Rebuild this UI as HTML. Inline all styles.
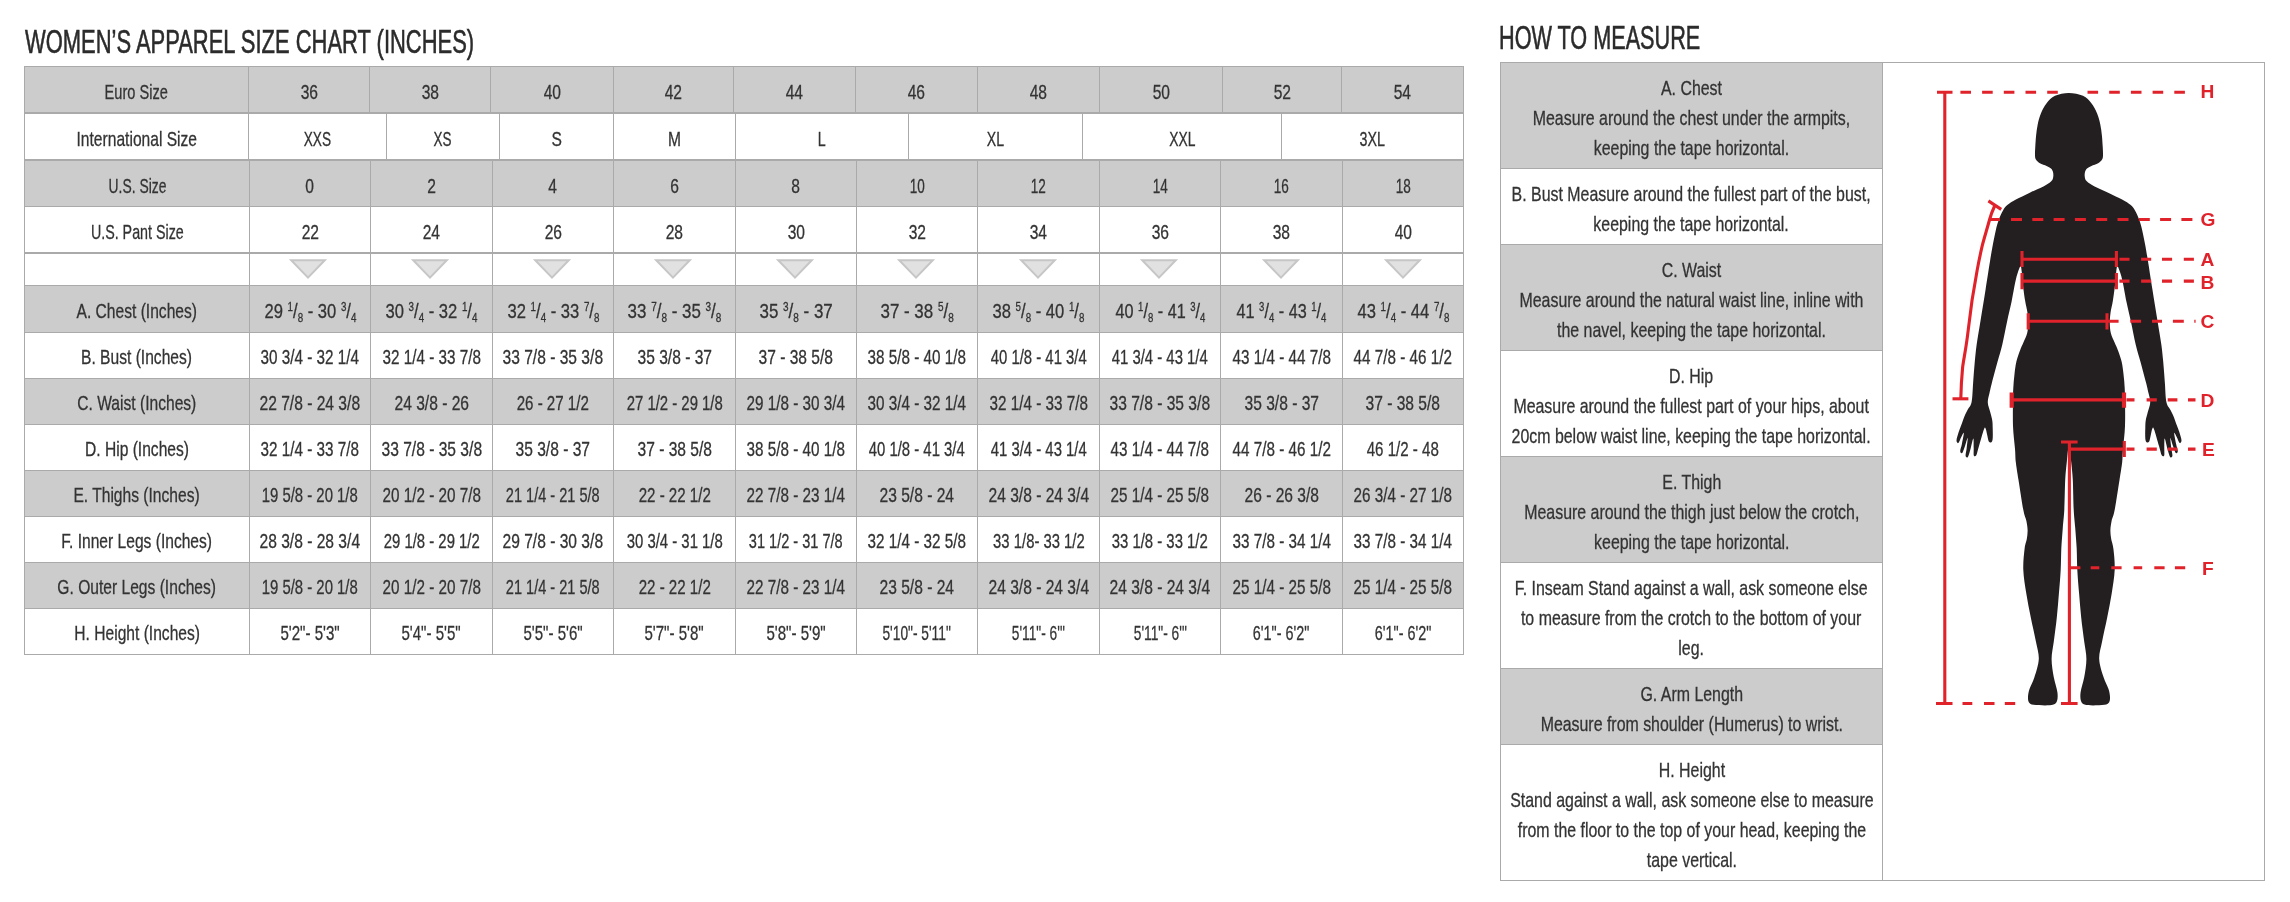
<!DOCTYPE html>
<html lang="en"><head><meta charset="utf-8"><title>Women's Apparel Size Chart</title><style>
html,body{margin:0;padding:0;background:#fff}
body{width:2290px;height:902px;position:relative;overflow:hidden;font-family:"Liberation Sans",sans-serif;color:#333333}
.r{position:absolute}
.c{position:absolute;display:flex;justify-content:center;align-items:center}
.t{display:inline-block;white-space:nowrap;font-size:20.4px;line-height:30px;-webkit-text-stroke:0.3px currentColor;text-align:center;flex:none;transform-origin:center}
.t sup,.t sub{font-size:12px;line-height:0}
.t sup{vertical-align:7px}
.t sub{vertical-align:-4px}
.ttl{position:absolute;white-space:nowrap;font-size:33px;line-height:1.15;color:#2b2b2b;-webkit-text-stroke:0.6px currentColor;margin-top:0.6px;transform-origin:left center}
</style></head>
<body>
<div class="r" style="left:24px;top:66px;width:1440px;height:47px;background:#cccccc"></div>
<div class="r" style="left:24px;top:160px;width:1440px;height:46px;background:#cccccc"></div>
<div class="r" style="left:24px;top:285px;width:1440px;height:47px;background:#cccccc"></div>
<div class="r" style="left:24px;top:378px;width:1440px;height:46px;background:#cccccc"></div>
<div class="r" style="left:24px;top:470px;width:1440px;height:46px;background:#cccccc"></div>
<div class="r" style="left:24px;top:562px;width:1440px;height:46px;background:#cccccc"></div>
<div class="r" style="left:24px;top:66px;width:1440px;height:1px;background:#aaaaaa"></div>
<div class="r" style="left:24px;top:112px;width:1440px;height:2px;background:#aaaaaa"></div>
<div class="r" style="left:24px;top:159px;width:1440px;height:2px;background:#aaaaaa"></div>
<div class="r" style="left:24px;top:206px;width:1440px;height:1px;background:#aaaaaa"></div>
<div class="r" style="left:24px;top:252px;width:1440px;height:2px;background:#aaaaaa"></div>
<div class="r" style="left:24px;top:285px;width:1440px;height:1px;background:#aaaaaa"></div>
<div class="r" style="left:24px;top:332px;width:1440px;height:1px;background:#aaaaaa"></div>
<div class="r" style="left:24px;top:378px;width:1440px;height:1px;background:#aaaaaa"></div>
<div class="r" style="left:24px;top:424px;width:1440px;height:1px;background:#aaaaaa"></div>
<div class="r" style="left:24px;top:470px;width:1440px;height:1px;background:#aaaaaa"></div>
<div class="r" style="left:24px;top:516px;width:1440px;height:1px;background:#aaaaaa"></div>
<div class="r" style="left:24px;top:562px;width:1440px;height:1px;background:#aaaaaa"></div>
<div class="r" style="left:24px;top:608px;width:1440px;height:1px;background:#aaaaaa"></div>
<div class="r" style="left:24px;top:654px;width:1440px;height:1px;background:#aaaaaa"></div>
<div class="r" style="left:24px;top:66px;width:1px;height:47px;background:#aaaaaa"></div>
<div class="r" style="left:248px;top:66px;width:1px;height:47px;background:#aaaaaa"></div>
<div class="r" style="left:369px;top:66px;width:1px;height:47px;background:#aaaaaa"></div>
<div class="r" style="left:490px;top:66px;width:1px;height:47px;background:#aaaaaa"></div>
<div class="r" style="left:613px;top:66px;width:1px;height:47px;background:#aaaaaa"></div>
<div class="r" style="left:733px;top:66px;width:1px;height:47px;background:#aaaaaa"></div>
<div class="r" style="left:855px;top:66px;width:1px;height:47px;background:#aaaaaa"></div>
<div class="r" style="left:977px;top:66px;width:1px;height:47px;background:#aaaaaa"></div>
<div class="r" style="left:1099px;top:66px;width:1px;height:47px;background:#aaaaaa"></div>
<div class="r" style="left:1222px;top:66px;width:1px;height:47px;background:#aaaaaa"></div>
<div class="r" style="left:1341px;top:66px;width:1px;height:47px;background:#aaaaaa"></div>
<div class="r" style="left:1463px;top:66px;width:1px;height:47px;background:#aaaaaa"></div>
<div class="r" style="left:24px;top:113px;width:1px;height:47px;background:#aaaaaa"></div>
<div class="r" style="left:248px;top:113px;width:1px;height:47px;background:#aaaaaa"></div>
<div class="r" style="left:386px;top:113px;width:1px;height:47px;background:#aaaaaa"></div>
<div class="r" style="left:499px;top:113px;width:1px;height:47px;background:#aaaaaa"></div>
<div class="r" style="left:613px;top:113px;width:1px;height:47px;background:#aaaaaa"></div>
<div class="r" style="left:735px;top:113px;width:1px;height:47px;background:#aaaaaa"></div>
<div class="r" style="left:908px;top:113px;width:1px;height:47px;background:#aaaaaa"></div>
<div class="r" style="left:1082px;top:113px;width:1px;height:47px;background:#aaaaaa"></div>
<div class="r" style="left:1281px;top:113px;width:1px;height:47px;background:#aaaaaa"></div>
<div class="r" style="left:1463px;top:113px;width:1px;height:47px;background:#aaaaaa"></div>
<div class="r" style="left:24px;top:160px;width:1px;height:495px;background:#aaaaaa"></div>
<div class="r" style="left:249px;top:160px;width:1px;height:495px;background:#aaaaaa"></div>
<div class="r" style="left:370px;top:160px;width:1px;height:495px;background:#aaaaaa"></div>
<div class="r" style="left:492px;top:160px;width:1px;height:495px;background:#aaaaaa"></div>
<div class="r" style="left:613px;top:160px;width:1px;height:495px;background:#aaaaaa"></div>
<div class="r" style="left:735px;top:160px;width:1px;height:495px;background:#aaaaaa"></div>
<div class="r" style="left:856px;top:160px;width:1px;height:495px;background:#aaaaaa"></div>
<div class="r" style="left:977px;top:160px;width:1px;height:495px;background:#aaaaaa"></div>
<div class="r" style="left:1099px;top:160px;width:1px;height:495px;background:#aaaaaa"></div>
<div class="r" style="left:1220px;top:160px;width:1px;height:495px;background:#aaaaaa"></div>
<div class="r" style="left:1342px;top:160px;width:1px;height:495px;background:#aaaaaa"></div>
<div class="r" style="left:1463px;top:160px;width:1px;height:495px;background:#aaaaaa"></div>
<div class="c" style="left:24px;top:68.5px;width:225px;height:47px"><span class="t" style="transform:scaleX(0.715)">Euro Size</span></div>
<div class="c" style="left:248px;top:68.5px;width:122px;height:47px"><span class="t" style="transform:scaleX(0.765)">36</span></div>
<div class="c" style="left:369px;top:68.5px;width:122px;height:47px"><span class="t" style="transform:scaleX(0.765)">38</span></div>
<div class="c" style="left:490px;top:68.5px;width:124px;height:47px"><span class="t" style="transform:scaleX(0.765)">40</span></div>
<div class="c" style="left:613px;top:68.5px;width:121px;height:47px"><span class="t" style="transform:scaleX(0.765)">42</span></div>
<div class="c" style="left:733px;top:68.5px;width:123px;height:47px"><span class="t" style="transform:scaleX(0.765)">44</span></div>
<div class="c" style="left:855px;top:68.5px;width:123px;height:47px"><span class="t" style="transform:scaleX(0.765)">46</span></div>
<div class="c" style="left:977px;top:68.5px;width:123px;height:47px"><span class="t" style="transform:scaleX(0.765)">48</span></div>
<div class="c" style="left:1099px;top:68.5px;width:124px;height:47px"><span class="t" style="transform:scaleX(0.765)">50</span></div>
<div class="c" style="left:1222px;top:68.5px;width:120px;height:47px"><span class="t" style="transform:scaleX(0.765)">52</span></div>
<div class="c" style="left:1341px;top:68.5px;width:123px;height:47px"><span class="t" style="transform:scaleX(0.765)">54</span></div>
<div class="c" style="left:24px;top:115.5px;width:225px;height:47px"><span class="t" style="transform:scaleX(0.765)">International Size</span></div>
<div class="c" style="left:248px;top:115.5px;width:139px;height:47px"><span class="t" style="transform:scaleX(0.67)">XXS</span></div>
<div class="c" style="left:386px;top:115.5px;width:114px;height:47px"><span class="t" style="transform:scaleX(0.66)">XS</span></div>
<div class="c" style="left:499px;top:115.5px;width:115px;height:47px"><span class="t" style="transform:scaleX(0.765)">S</span></div>
<div class="c" style="left:613px;top:115.5px;width:123px;height:47px"><span class="t" style="transform:scaleX(0.765)">M</span></div>
<div class="c" style="left:735px;top:115.5px;width:174px;height:47px"><span class="t" style="transform:scaleX(0.7)">L</span></div>
<div class="c" style="left:908px;top:115.5px;width:175px;height:47px"><span class="t" style="transform:scaleX(0.69)">XL</span></div>
<div class="c" style="left:1082px;top:115.5px;width:200px;height:47px"><span class="t" style="transform:scaleX(0.68)">XXL</span></div>
<div class="c" style="left:1281px;top:115.5px;width:183px;height:47px"><span class="t" style="transform:scaleX(0.7)">3XL</span></div>
<div class="c" style="left:24px;top:162.5px;width:226px;height:47px"><span class="t" style="transform:scaleX(0.68)">U.S. Size</span></div>
<div class="c" style="left:249px;top:162.5px;width:122px;height:47px"><span class="t" style="transform:scaleX(0.765)">0</span></div>
<div class="c" style="left:370px;top:162.5px;width:123px;height:47px"><span class="t" style="transform:scaleX(0.765)">2</span></div>
<div class="c" style="left:492px;top:162.5px;width:122px;height:47px"><span class="t" style="transform:scaleX(0.765)">4</span></div>
<div class="c" style="left:613px;top:162.5px;width:123px;height:47px"><span class="t" style="transform:scaleX(0.765)">6</span></div>
<div class="c" style="left:735px;top:162.5px;width:122px;height:47px"><span class="t" style="transform:scaleX(0.765)">8</span></div>
<div class="c" style="left:856px;top:162.5px;width:122px;height:47px"><span class="t" style="transform:scaleX(0.664)">10</span></div>
<div class="c" style="left:977px;top:162.5px;width:123px;height:47px"><span class="t" style="transform:scaleX(0.664)">12</span></div>
<div class="c" style="left:1099px;top:162.5px;width:122px;height:47px"><span class="t" style="transform:scaleX(0.664)">14</span></div>
<div class="c" style="left:1220px;top:162.5px;width:123px;height:47px"><span class="t" style="transform:scaleX(0.664)">16</span></div>
<div class="c" style="left:1342px;top:162.5px;width:122px;height:47px"><span class="t" style="transform:scaleX(0.664)">18</span></div>
<div class="c" style="left:24px;top:208.5px;width:226px;height:47px"><span class="t" style="transform:scaleX(0.7)">U.S. Pant Size</span></div>
<div class="c" style="left:249px;top:208.5px;width:122px;height:47px"><span class="t" style="transform:scaleX(0.765)">22</span></div>
<div class="c" style="left:370px;top:208.5px;width:123px;height:47px"><span class="t" style="transform:scaleX(0.765)">24</span></div>
<div class="c" style="left:492px;top:208.5px;width:122px;height:47px"><span class="t" style="transform:scaleX(0.765)">26</span></div>
<div class="c" style="left:613px;top:208.5px;width:123px;height:47px"><span class="t" style="transform:scaleX(0.765)">28</span></div>
<div class="c" style="left:735px;top:208.5px;width:122px;height:47px"><span class="t" style="transform:scaleX(0.765)">30</span></div>
<div class="c" style="left:856px;top:208.5px;width:122px;height:47px"><span class="t" style="transform:scaleX(0.765)">32</span></div>
<div class="c" style="left:977px;top:208.5px;width:123px;height:47px"><span class="t" style="transform:scaleX(0.765)">34</span></div>
<div class="c" style="left:1099px;top:208.5px;width:122px;height:47px"><span class="t" style="transform:scaleX(0.765)">36</span></div>
<div class="c" style="left:1220px;top:208.5px;width:123px;height:47px"><span class="t" style="transform:scaleX(0.765)">38</span></div>
<div class="c" style="left:1342px;top:208.5px;width:122px;height:47px"><span class="t" style="transform:scaleX(0.765)">40</span></div>
<svg class="r" style="left:286.30px;top:256px" width="44" height="28" viewBox="0 0 44 28"><path d="M5.2 4.3 L38.8 4.3 L22 21.6 Z" fill="#e1e1e1" stroke="#c6c6c6" stroke-width="2" stroke-linejoin="miter"/></svg>
<svg class="r" style="left:407.93px;top:256px" width="44" height="28" viewBox="0 0 44 28"><path d="M5.2 4.3 L38.8 4.3 L22 21.6 Z" fill="#e1e1e1" stroke="#c6c6c6" stroke-width="2" stroke-linejoin="miter"/></svg>
<svg class="r" style="left:529.57px;top:256px" width="44" height="28" viewBox="0 0 44 28"><path d="M5.2 4.3 L38.8 4.3 L22 21.6 Z" fill="#e1e1e1" stroke="#c6c6c6" stroke-width="2" stroke-linejoin="miter"/></svg>
<svg class="r" style="left:651.20px;top:256px" width="44" height="28" viewBox="0 0 44 28"><path d="M5.2 4.3 L38.8 4.3 L22 21.6 Z" fill="#e1e1e1" stroke="#c6c6c6" stroke-width="2" stroke-linejoin="miter"/></svg>
<svg class="r" style="left:772.83px;top:256px" width="44" height="28" viewBox="0 0 44 28"><path d="M5.2 4.3 L38.8 4.3 L22 21.6 Z" fill="#e1e1e1" stroke="#c6c6c6" stroke-width="2" stroke-linejoin="miter"/></svg>
<svg class="r" style="left:893.97px;top:256px" width="44" height="28" viewBox="0 0 44 28"><path d="M5.2 4.3 L38.8 4.3 L22 21.6 Z" fill="#e1e1e1" stroke="#c6c6c6" stroke-width="2" stroke-linejoin="miter"/></svg>
<svg class="r" style="left:1015.60px;top:256px" width="44" height="28" viewBox="0 0 44 28"><path d="M5.2 4.3 L38.8 4.3 L22 21.6 Z" fill="#e1e1e1" stroke="#c6c6c6" stroke-width="2" stroke-linejoin="miter"/></svg>
<svg class="r" style="left:1137.23px;top:256px" width="44" height="28" viewBox="0 0 44 28"><path d="M5.2 4.3 L38.8 4.3 L22 21.6 Z" fill="#e1e1e1" stroke="#c6c6c6" stroke-width="2" stroke-linejoin="miter"/></svg>
<svg class="r" style="left:1258.87px;top:256px" width="44" height="28" viewBox="0 0 44 28"><path d="M5.2 4.3 L38.8 4.3 L22 21.6 Z" fill="#e1e1e1" stroke="#c6c6c6" stroke-width="2" stroke-linejoin="miter"/></svg>
<svg class="r" style="left:1380.50px;top:256px" width="44" height="28" viewBox="0 0 44 28"><path d="M5.2 4.3 L38.8 4.3 L22 21.6 Z" fill="#e1e1e1" stroke="#c6c6c6" stroke-width="2" stroke-linejoin="miter"/></svg>
<div class="c" style="left:24px;top:286.9px;width:226px;height:48px"><span class="t fa" style="transform:scaleX(0.765)">A. Chest (Inches)</span></div>
<div class="c" style="left:249px;top:286.9px;width:122px;height:48px"><span class="t fa" style="transform:scaleX(0.813)">29 <sup>1</sup>/<sub>8</sub> - 30 <sup>3</sup>/<sub>4</sub></span></div>
<div class="c" style="left:370px;top:286.9px;width:123px;height:48px"><span class="t fa" style="transform:scaleX(0.813)">30 <sup>3</sup>/<sub>4</sub> - 32 <sup>1</sup>/<sub>4</sub></span></div>
<div class="c" style="left:492px;top:286.9px;width:122px;height:48px"><span class="t fa" style="transform:scaleX(0.813)">32 <sup>1</sup>/<sub>4</sub> - 33 <sup>7</sup>/<sub>8</sub></span></div>
<div class="c" style="left:613px;top:286.9px;width:123px;height:48px"><span class="t fa" style="transform:scaleX(0.83)">33 <sup>7</sup>/<sub>8</sub> - 35 <sup>3</sup>/<sub>8</sub></span></div>
<div class="c" style="left:735px;top:286.9px;width:122px;height:48px"><span class="t fa" style="transform:scaleX(0.83)">35 <sup>3</sup>/<sub>8</sub> - 37</span></div>
<div class="c" style="left:856px;top:286.9px;width:122px;height:48px"><span class="t fa" style="transform:scaleX(0.83)">37 - 38 <sup>5</sup>/<sub>8</sub></span></div>
<div class="c" style="left:977px;top:286.9px;width:123px;height:48px"><span class="t fa" style="transform:scaleX(0.813)">38 <sup>5</sup>/<sub>8</sub> - 40 <sup>1</sup>/<sub>8</sub></span></div>
<div class="c" style="left:1099px;top:286.9px;width:122px;height:48px"><span class="t fa" style="transform:scaleX(0.795)">40 <sup>1</sup>/<sub>8</sub> - 41 <sup>3</sup>/<sub>4</sub></span></div>
<div class="c" style="left:1220px;top:286.9px;width:123px;height:48px"><span class="t fa" style="transform:scaleX(0.795)">41 <sup>3</sup>/<sub>4</sub> - 43 <sup>1</sup>/<sub>4</sub></span></div>
<div class="c" style="left:1342px;top:286.9px;width:122px;height:48px"><span class="t fa" style="transform:scaleX(0.813)">43 <sup>1</sup>/<sub>4</sub> - 44 <sup>7</sup>/<sub>8</sub></span></div>
<div class="c" style="left:24px;top:333.3px;width:226px;height:47px"><span class="t" style="transform:scaleX(0.765)">B. Bust (Inches)</span></div>
<div class="c" style="left:249px;top:333.3px;width:122px;height:47px"><span class="t" style="transform:scaleX(0.748)">30 3/4 - 32 1/4</span></div>
<div class="c" style="left:370px;top:333.3px;width:123px;height:47px"><span class="t" style="transform:scaleX(0.748)">32 1/4 - 33 7/8</span></div>
<div class="c" style="left:492px;top:333.3px;width:122px;height:47px"><span class="t" style="transform:scaleX(0.765)">33 7/8 - 35 3/8</span></div>
<div class="c" style="left:613px;top:333.3px;width:123px;height:47px"><span class="t" style="transform:scaleX(0.765)">35 3/8 - 37</span></div>
<div class="c" style="left:735px;top:333.3px;width:122px;height:47px"><span class="t" style="transform:scaleX(0.765)">37 - 38 5/8</span></div>
<div class="c" style="left:856px;top:333.3px;width:122px;height:47px"><span class="t" style="transform:scaleX(0.748)">38 5/8 - 40 1/8</span></div>
<div class="c" style="left:977px;top:333.3px;width:123px;height:47px"><span class="t" style="transform:scaleX(0.73)">40 1/8 - 41 3/4</span></div>
<div class="c" style="left:1099px;top:333.3px;width:122px;height:47px"><span class="t" style="transform:scaleX(0.73)">41 3/4 - 43 1/4</span></div>
<div class="c" style="left:1220px;top:333.3px;width:123px;height:47px"><span class="t" style="transform:scaleX(0.748)">43 1/4 - 44 7/8</span></div>
<div class="c" style="left:1342px;top:333.3px;width:122px;height:47px"><span class="t" style="transform:scaleX(0.748)">44 7/8 - 46 1/2</span></div>
<div class="c" style="left:24px;top:379.3px;width:226px;height:47px"><span class="t" style="transform:scaleX(0.765)">C. Waist (Inches)</span></div>
<div class="c" style="left:249px;top:379.3px;width:122px;height:47px"><span class="t" style="transform:scaleX(0.765)">22 7/8 - 24 3/8</span></div>
<div class="c" style="left:370px;top:379.3px;width:123px;height:47px"><span class="t" style="transform:scaleX(0.765)">24 3/8 - 26</span></div>
<div class="c" style="left:492px;top:379.3px;width:122px;height:47px"><span class="t" style="transform:scaleX(0.741)">26 - 27 1/2</span></div>
<div class="c" style="left:613px;top:379.3px;width:123px;height:47px"><span class="t" style="transform:scaleX(0.73)">27 1/2 - 29 1/8</span></div>
<div class="c" style="left:735px;top:379.3px;width:122px;height:47px"><span class="t" style="transform:scaleX(0.748)">29 1/8 - 30 3/4</span></div>
<div class="c" style="left:856px;top:379.3px;width:122px;height:47px"><span class="t" style="transform:scaleX(0.748)">30 3/4 - 32 1/4</span></div>
<div class="c" style="left:977px;top:379.3px;width:123px;height:47px"><span class="t" style="transform:scaleX(0.748)">32 1/4 - 33 7/8</span></div>
<div class="c" style="left:1099px;top:379.3px;width:122px;height:47px"><span class="t" style="transform:scaleX(0.765)">33 7/8 - 35 3/8</span></div>
<div class="c" style="left:1220px;top:379.3px;width:123px;height:47px"><span class="t" style="transform:scaleX(0.765)">35 3/8 - 37</span></div>
<div class="c" style="left:1342px;top:379.3px;width:122px;height:47px"><span class="t" style="transform:scaleX(0.765)">37 - 38 5/8</span></div>
<div class="c" style="left:24px;top:425.3px;width:226px;height:47px"><span class="t" style="transform:scaleX(0.765)">D. Hip (Inches)</span></div>
<div class="c" style="left:249px;top:425.3px;width:122px;height:47px"><span class="t" style="transform:scaleX(0.748)">32 1/4 - 33 7/8</span></div>
<div class="c" style="left:370px;top:425.3px;width:123px;height:47px"><span class="t" style="transform:scaleX(0.765)">33 7/8 - 35 3/8</span></div>
<div class="c" style="left:492px;top:425.3px;width:122px;height:47px"><span class="t" style="transform:scaleX(0.765)">35 3/8 - 37</span></div>
<div class="c" style="left:613px;top:425.3px;width:123px;height:47px"><span class="t" style="transform:scaleX(0.765)">37 - 38 5/8</span></div>
<div class="c" style="left:735px;top:425.3px;width:122px;height:47px"><span class="t" style="transform:scaleX(0.748)">38 5/8 - 40 1/8</span></div>
<div class="c" style="left:856px;top:425.3px;width:122px;height:47px"><span class="t" style="transform:scaleX(0.73)">40 1/8 - 41 3/4</span></div>
<div class="c" style="left:977px;top:425.3px;width:123px;height:47px"><span class="t" style="transform:scaleX(0.73)">41 3/4 - 43 1/4</span></div>
<div class="c" style="left:1099px;top:425.3px;width:122px;height:47px"><span class="t" style="transform:scaleX(0.748)">43 1/4 - 44 7/8</span></div>
<div class="c" style="left:1220px;top:425.3px;width:123px;height:47px"><span class="t" style="transform:scaleX(0.748)">44 7/8 - 46 1/2</span></div>
<div class="c" style="left:1342px;top:425.3px;width:122px;height:47px"><span class="t" style="transform:scaleX(0.741)">46 1/2 - 48</span></div>
<div class="c" style="left:24px;top:471.3px;width:226px;height:47px"><span class="t" style="transform:scaleX(0.765)">E. Thighs (Inches)</span></div>
<div class="c" style="left:249px;top:471.3px;width:122px;height:47px"><span class="t" style="transform:scaleX(0.73)">19 5/8 - 20 1/8</span></div>
<div class="c" style="left:370px;top:471.3px;width:123px;height:47px"><span class="t" style="transform:scaleX(0.748)">20 1/2 - 20 7/8</span></div>
<div class="c" style="left:492px;top:471.3px;width:122px;height:47px"><span class="t" style="transform:scaleX(0.713)">21 1/4 - 21 5/8</span></div>
<div class="c" style="left:613px;top:471.3px;width:123px;height:47px"><span class="t" style="transform:scaleX(0.741)">22 - 22 1/2</span></div>
<div class="c" style="left:735px;top:471.3px;width:122px;height:47px"><span class="t" style="transform:scaleX(0.748)">22 7/8 - 23 1/4</span></div>
<div class="c" style="left:856px;top:471.3px;width:122px;height:47px"><span class="t" style="transform:scaleX(0.765)">23 5/8 - 24</span></div>
<div class="c" style="left:977px;top:471.3px;width:123px;height:47px"><span class="t" style="transform:scaleX(0.765)">24 3/8 - 24 3/4</span></div>
<div class="c" style="left:1099px;top:471.3px;width:122px;height:47px"><span class="t" style="transform:scaleX(0.748)">25 1/4 - 25 5/8</span></div>
<div class="c" style="left:1220px;top:471.3px;width:123px;height:47px"><span class="t" style="transform:scaleX(0.765)">26 - 26 3/8</span></div>
<div class="c" style="left:1342px;top:471.3px;width:122px;height:47px"><span class="t" style="transform:scaleX(0.748)">26 3/4 - 27 1/8</span></div>
<div class="c" style="left:24px;top:517.3px;width:226px;height:47px"><span class="t" style="transform:scaleX(0.765)">F. Inner Legs (Inches)</span></div>
<div class="c" style="left:249px;top:517.3px;width:122px;height:47px"><span class="t" style="transform:scaleX(0.765)">28 3/8 - 28 3/4</span></div>
<div class="c" style="left:370px;top:517.3px;width:123px;height:47px"><span class="t" style="transform:scaleX(0.73)">29 1/8 - 29 1/2</span></div>
<div class="c" style="left:492px;top:517.3px;width:122px;height:47px"><span class="t" style="transform:scaleX(0.765)">29 7/8 - 30 3/8</span></div>
<div class="c" style="left:613px;top:517.3px;width:123px;height:47px"><span class="t" style="transform:scaleX(0.73)">30 3/4 - 31 1/8</span></div>
<div class="c" style="left:735px;top:517.3px;width:122px;height:47px"><span class="t" style="transform:scaleX(0.713)">31 1/2 - 31 7/8</span></div>
<div class="c" style="left:856px;top:517.3px;width:122px;height:47px"><span class="t" style="transform:scaleX(0.748)">32 1/4 - 32 5/8</span></div>
<div class="c" style="left:977px;top:517.3px;width:123px;height:47px"><span class="t" style="transform:scaleX(0.728)">33 1/8- 33 1/2</span></div>
<div class="c" style="left:1099px;top:517.3px;width:122px;height:47px"><span class="t" style="transform:scaleX(0.73)">33 1/8 - 33 1/2</span></div>
<div class="c" style="left:1220px;top:517.3px;width:123px;height:47px"><span class="t" style="transform:scaleX(0.748)">33 7/8 - 34 1/4</span></div>
<div class="c" style="left:1342px;top:517.3px;width:122px;height:47px"><span class="t" style="transform:scaleX(0.748)">33 7/8 - 34 1/4</span></div>
<div class="c" style="left:24px;top:563.3px;width:226px;height:47px"><span class="t" style="transform:scaleX(0.765)">G. Outer Legs (Inches)</span></div>
<div class="c" style="left:249px;top:563.3px;width:122px;height:47px"><span class="t" style="transform:scaleX(0.73)">19 5/8 - 20 1/8</span></div>
<div class="c" style="left:370px;top:563.3px;width:123px;height:47px"><span class="t" style="transform:scaleX(0.748)">20 1/2 - 20 7/8</span></div>
<div class="c" style="left:492px;top:563.3px;width:122px;height:47px"><span class="t" style="transform:scaleX(0.713)">21 1/4 - 21 5/8</span></div>
<div class="c" style="left:613px;top:563.3px;width:123px;height:47px"><span class="t" style="transform:scaleX(0.741)">22 - 22 1/2</span></div>
<div class="c" style="left:735px;top:563.3px;width:122px;height:47px"><span class="t" style="transform:scaleX(0.748)">22 7/8 - 23 1/4</span></div>
<div class="c" style="left:856px;top:563.3px;width:122px;height:47px"><span class="t" style="transform:scaleX(0.765)">23 5/8 - 24</span></div>
<div class="c" style="left:977px;top:563.3px;width:123px;height:47px"><span class="t" style="transform:scaleX(0.765)">24 3/8 - 24 3/4</span></div>
<div class="c" style="left:1099px;top:563.3px;width:122px;height:47px"><span class="t" style="transform:scaleX(0.765)">24 3/8 - 24 3/4</span></div>
<div class="c" style="left:1220px;top:563.3px;width:123px;height:47px"><span class="t" style="transform:scaleX(0.748)">25 1/4 - 25 5/8</span></div>
<div class="c" style="left:1342px;top:563.3px;width:122px;height:47px"><span class="t" style="transform:scaleX(0.748)">25 1/4 - 25 5/8</span></div>
<div class="c" style="left:24px;top:609.3px;width:226px;height:47px"><span class="t" style="transform:scaleX(0.765)">H. Height (Inches)</span></div>
<div class="c" style="left:249px;top:609.3px;width:122px;height:47px"><span class="t" style="transform:scaleX(0.74)">5&#39;2&quot;- 5&#39;3&quot;</span></div>
<div class="c" style="left:370px;top:609.3px;width:123px;height:47px"><span class="t" style="transform:scaleX(0.74)">5&#39;4&quot;- 5&#39;5&quot;</span></div>
<div class="c" style="left:492px;top:609.3px;width:122px;height:47px"><span class="t" style="transform:scaleX(0.74)">5&#39;5&quot;- 5&#39;6&quot;</span></div>
<div class="c" style="left:613px;top:609.3px;width:123px;height:47px"><span class="t" style="transform:scaleX(0.74)">5&#39;7&quot;- 5&#39;8&quot;</span></div>
<div class="c" style="left:735px;top:609.3px;width:122px;height:47px"><span class="t" style="transform:scaleX(0.74)">5&#39;8&quot;- 5&#39;9&quot;</span></div>
<div class="c" style="left:856px;top:609.3px;width:122px;height:47px"><span class="t" style="transform:scaleX(0.675)">5&#39;10&quot;- 5&#39;11&quot;</span></div>
<div class="c" style="left:977px;top:609.3px;width:123px;height:47px"><span class="t" style="transform:scaleX(0.674)">5&#39;11&quot;- 6&#39;&quot;</span></div>
<div class="c" style="left:1099px;top:609.3px;width:122px;height:47px"><span class="t" style="transform:scaleX(0.674)">5&#39;11&quot;- 6&#39;&quot;</span></div>
<div class="c" style="left:1220px;top:609.3px;width:123px;height:47px"><span class="t" style="transform:scaleX(0.706)">6&#39;1&quot;- 6&#39;2&quot;</span></div>
<div class="c" style="left:1342px;top:609.3px;width:122px;height:47px"><span class="t" style="transform:scaleX(0.706)">6&#39;1&quot;- 6&#39;2&quot;</span></div>
<div class="ttl" style="left:24.6px;top:22.39px;transform:scaleX(0.665)">WOMEN&#8217;S APPAREL SIZE CHART (INCHES)</div>
<div class="ttl" style="left:1499.2px;top:18.39px;transform:scaleX(0.656)">HOW TO MEASURE</div>
<div class="r" style="left:1500px;top:62px;width:382px;height:106px;background:#cccccc"></div>
<div class="r" style="left:1500px;top:244px;width:382px;height:106px;background:#cccccc"></div>
<div class="r" style="left:1500px;top:456px;width:382px;height:106px;background:#cccccc"></div>
<div class="r" style="left:1500px;top:668px;width:382px;height:76px;background:#cccccc"></div>
<div class="r" style="left:1500px;top:62px;width:383px;height:1px;background:#aaaaaa"></div>
<div class="r" style="left:1500px;top:168px;width:383px;height:1px;background:#aaaaaa"></div>
<div class="r" style="left:1500px;top:244px;width:383px;height:1px;background:#aaaaaa"></div>
<div class="r" style="left:1500px;top:350px;width:383px;height:1px;background:#aaaaaa"></div>
<div class="r" style="left:1500px;top:456px;width:383px;height:1px;background:#aaaaaa"></div>
<div class="r" style="left:1500px;top:562px;width:383px;height:1px;background:#aaaaaa"></div>
<div class="r" style="left:1500px;top:668px;width:383px;height:1px;background:#aaaaaa"></div>
<div class="r" style="left:1500px;top:744px;width:383px;height:1px;background:#aaaaaa"></div>
<div class="r" style="left:1500px;top:880px;width:383px;height:1px;background:#aaaaaa"></div>
<div class="r" style="left:1500px;top:62px;width:1px;height:819px;background:#aaaaaa"></div>
<div class="r" style="left:1882px;top:62px;width:1px;height:819px;background:#aaaaaa"></div>
<div class="r" style="left:1882px;top:62px;width:383px;height:1px;background:#aaaaaa"></div>
<div class="r" style="left:1882px;top:880px;width:383px;height:1px;background:#aaaaaa"></div>
<div class="r" style="left:2264px;top:62px;width:1px;height:819px;background:#aaaaaa"></div>
<div class="c" style="left:1500px;top:65.0px;width:383px;height:106px"><span class="t p" style="transform:scaleX(0.78)">A. Chest<br>Measure around the chest under the armpits,<br>keeping the tape horizontal.</span></div>
<div class="c" style="left:1500px;top:171.0px;width:383px;height:76px"><span class="t p" style="transform:scaleX(0.78)">B. Bust Measure around the fullest part of the bust,<br>keeping the tape horizontal.</span></div>
<div class="c" style="left:1500px;top:247.0px;width:383px;height:106px"><span class="t p" style="transform:scaleX(0.78)">C. Waist<br>Measure around the natural waist line, inline with<br>the navel, keeping the tape horizontal.</span></div>
<div class="c" style="left:1500px;top:353.0px;width:383px;height:106px"><span class="t p" style="transform:scaleX(0.78)">D. Hip<br>Measure around the fullest part of your hips, about<br>20cm below waist line, keeping the tape horizontal.</span></div>
<div class="c" style="left:1500px;top:459.0px;width:383px;height:106px"><span class="t p" style="transform:scaleX(0.78)">E. Thigh<br>Measure around the thigh just below the crotch,<br>keeping the tape horizontal.</span></div>
<div class="c" style="left:1500px;top:565.0px;width:383px;height:106px"><span class="t p" style="transform:scaleX(0.78)">F. Inseam Stand against a wall, ask someone else<br>to measure from the crotch to the bottom of your<br>leg.</span></div>
<div class="c" style="left:1500px;top:671.0px;width:383px;height:76px"><span class="t p" style="transform:scaleX(0.78)">G. Arm Length<br>Measure from shoulder (Humerus) to wrist.</span></div>
<div class="c" style="left:1500px;top:747.0px;width:383px;height:136px"><span class="t p" style="transform:scaleX(0.78)">H. Height<br>Stand against a wall, ask someone else to measure<br>from the floor to the top of your head, keeping the<br>tape vertical.</span></div>
<svg class="r" style="left:1883px;top:63px;filter:blur(0.45px)" width="381" height="817" viewBox="1883 63 381 817">
<g fill="none" stroke="#e0222b" stroke-width="3.1">
<path d="M1960.4 92.2H1971.0M1982.1 92.2H1992.7M2003.8 92.2H2014.4M2025.5 92.2H2036.1M2047.2 92.2H2057.8M2087.5 92.2H2098.1M2109.2 92.2H2119.8M2130.9 92.2H2141.5M2152.6 92.2H2163.2M2174.3 92.2H2184.9M2196.0 92.2H2196.0"/>
</g>
<path d="M2068.8 93.0C2064.1 93.0 2058.7 94.1 2055.0 95.8C2051.3 97.5 2048.9 100.4 2046.6 103.3C2044.3 106.2 2042.5 109.8 2041.0 113.3C2039.5 116.8 2038.5 120.7 2037.7 124.4C2036.9 128.1 2036.5 131.8 2036.1 135.5C2035.7 139.2 2035.5 143.2 2035.3 146.5C2035.1 149.8 2034.9 153.2 2035.0 155.4C2035.1 157.6 2035.3 158.5 2036.1 159.8C2036.9 161.1 2038.2 162.2 2039.9 163.2C2041.7 164.2 2044.8 165.0 2046.6 165.9C2048.4 166.8 2049.9 167.4 2051.0 168.4C2052.1 169.4 2052.6 170.6 2053.0 172.0C2053.4 173.4 2053.5 175.4 2053.2 177.0C2052.9 178.6 2052.8 179.8 2051.2 181.3C2049.6 182.8 2047.6 184.3 2043.9 186.2C2040.2 188.1 2034.0 190.7 2029.3 192.9C2024.6 195.1 2019.6 197.6 2015.9 199.6C2012.2 201.6 2009.5 203.3 2007.3 205.1C2005.1 206.9 2004.4 208.1 2003.0 210.5C2001.6 212.9 2000.0 216.4 1998.8 219.8C1997.6 223.2 1996.7 226.4 1995.7 230.7C1994.7 235.0 1993.6 240.5 1992.7 245.4C1991.8 250.3 1991.4 252.6 1990.2 260.0C1989.0 267.4 1987.1 279.8 1985.5 290.0C1983.9 300.2 1981.9 312.2 1980.4 321.4C1978.9 330.6 1977.5 338.3 1976.6 345.0C1975.7 351.7 1975.4 355.2 1974.8 361.6C1974.2 368.0 1973.6 376.5 1973.1 383.2C1972.6 389.9 1972.5 397.5 1971.6 402.0C1970.7 406.5 1968.7 407.6 1967.5 410.0C1966.3 412.4 1965.4 413.9 1964.4 416.4C1963.4 418.9 1962.3 422.4 1961.3 425.0C1960.3 427.6 1959.4 429.7 1958.6 432.3C1957.8 434.9 1956.5 438.8 1956.5 440.6C1956.5 442.4 1957.6 443.6 1958.4 443.0C1959.2 442.4 1960.4 438.7 1961.3 437.0C1962.2 435.3 1963.7 431.8 1963.8 433.0C1963.9 434.2 1962.5 440.9 1961.9 444.0C1961.3 447.1 1960.1 449.8 1960.2 451.3C1960.3 452.8 1961.5 453.8 1962.3 452.9C1963.1 452.0 1964.1 448.5 1965.0 446.0C1965.9 443.5 1967.3 437.7 1967.6 438.0C1967.9 438.3 1967.0 445.0 1966.7 448.0C1966.4 451.0 1965.4 454.3 1965.6 455.8C1965.8 457.3 1967.1 458.0 1967.9 456.9C1968.7 455.8 1969.6 452.1 1970.5 449.0C1971.4 445.9 1972.8 438.7 1973.3 438.5C1973.8 438.3 1973.6 445.2 1973.7 448.0C1973.8 450.8 1973.4 454.2 1973.8 455.4C1974.2 456.6 1975.4 456.8 1976.3 455.2C1977.2 453.6 1977.7 450.3 1979.0 446.0C1980.3 441.7 1982.8 432.4 1983.9 429.5C1985.0 426.6 1985.0 427.6 1985.6 428.5C1986.1 429.4 1986.7 432.8 1987.2 435.0C1987.7 437.2 1988.1 440.3 1988.8 441.5C1989.5 442.7 1990.8 442.7 1991.4 442.2C1992.1 441.7 1992.5 440.9 1992.7 438.5C1992.9 436.1 1992.8 431.0 1992.7 428.0C1992.6 425.0 1992.7 423.4 1992.3 420.7C1991.9 418.0 1991.0 415.0 1990.2 412.0C1989.5 409.0 1987.9 405.7 1987.8 402.5C1987.7 399.3 1988.8 396.2 1989.5 393.0C1990.2 389.8 1990.5 388.4 1991.8 383.2C1993.1 378.0 1995.9 368.0 1997.6 361.6C1999.3 355.2 2000.6 351.7 2002.2 345.0C2003.8 338.3 2005.5 328.6 2007.1 321.4C2008.6 314.2 2010.1 308.6 2011.5 302.0C2012.9 295.4 2014.2 287.0 2015.3 282.0C2016.4 277.0 2017.1 274.6 2018.0 272.0C2018.9 269.4 2020.0 266.3 2020.6 266.3C2021.2 266.3 2021.5 269.4 2021.8 272.0C2022.1 274.6 2022.1 277.3 2022.6 282.0C2023.1 286.7 2024.2 294.8 2025.0 300.0C2025.8 305.2 2027.0 309.2 2027.5 313.0C2028.0 316.8 2028.2 319.7 2028.2 323.0C2028.2 326.3 2028.0 329.8 2027.2 333.0C2026.4 336.2 2024.6 339.7 2023.4 342.5C2022.2 345.3 2021.4 346.8 2020.2 350.0C2019.0 353.2 2017.4 357.4 2016.4 361.6C2015.4 365.8 2014.9 370.6 2014.4 375.0C2013.9 379.4 2013.5 383.8 2013.3 388.0C2013.1 392.2 2013.0 393.7 2013.0 400.0C2013.0 406.3 2012.7 417.8 2013.0 426.0C2013.3 434.2 2014.5 443.0 2015.0 449.0C2015.5 455.0 2015.2 456.8 2015.8 462.0C2016.4 467.2 2017.2 472.0 2018.5 480.0C2019.8 488.0 2022.0 503.0 2023.3 509.8C2024.6 516.6 2025.7 517.6 2026.4 521.0C2027.1 524.4 2027.5 527.0 2027.6 530.0C2027.7 533.0 2027.3 535.9 2026.8 539.0C2026.3 542.1 2025.2 543.6 2024.6 548.7C2024.0 553.8 2023.0 562.2 2023.3 569.7C2023.6 577.2 2025.0 585.6 2026.3 593.6C2027.5 601.6 2029.2 609.5 2030.8 617.5C2032.4 625.5 2034.6 634.5 2035.9 641.4C2037.2 648.3 2039.0 653.0 2038.8 659.0C2038.5 665.0 2036.0 672.3 2034.4 677.3C2032.9 682.3 2030.6 685.7 2029.5 689.0C2028.4 692.3 2028.1 694.8 2028.0 697.0C2027.9 699.2 2028.1 701.2 2029.0 702.5C2029.9 703.8 2030.8 704.3 2033.5 704.8C2036.2 705.3 2041.7 705.4 2045.0 705.4C2048.3 705.4 2051.5 705.3 2053.5 704.6C2055.5 703.9 2056.3 703.0 2057.0 701.0C2057.7 699.0 2057.9 696.2 2057.4 692.3C2056.9 688.3 2054.8 682.8 2053.8 677.3C2052.8 671.8 2051.6 665.0 2051.6 659.0C2051.6 653.0 2052.9 648.3 2053.8 641.4C2054.7 634.5 2056.0 625.5 2056.8 617.5C2057.7 609.5 2058.2 601.6 2058.9 593.6C2059.6 585.6 2060.3 577.2 2060.7 569.7C2061.1 562.2 2061.0 555.7 2061.3 548.7C2061.7 541.7 2062.3 534.3 2062.8 527.8C2063.3 521.3 2063.9 517.8 2064.3 509.8C2064.7 501.8 2064.8 488.0 2065.2 480.0C2065.6 472.0 2066.3 467.0 2066.8 462.0C2067.3 457.0 2067.6 453.0 2068.0 450.0C2068.4 447.0 2068.7 444.0 2069.0 444.0C2069.3 444.0 2069.6 447.0 2070.0 450.0C2070.4 453.0 2070.7 457.0 2071.2 462.0C2071.7 467.0 2072.4 472.0 2072.8 480.0C2073.2 488.0 2073.3 501.8 2073.7 509.8C2074.1 517.8 2074.7 521.3 2075.2 527.8C2075.7 534.3 2076.3 541.7 2076.7 548.7C2077.0 555.7 2076.9 562.2 2077.3 569.7C2077.7 577.2 2078.4 585.6 2079.1 593.6C2079.8 601.6 2080.3 609.5 2081.2 617.5C2082.0 625.5 2083.3 634.5 2084.2 641.4C2085.1 648.3 2086.4 653.0 2086.4 659.0C2086.4 665.0 2085.2 671.8 2084.2 677.3C2083.2 682.8 2081.1 688.3 2080.6 692.3C2080.1 696.2 2080.3 699.0 2081.0 701.0C2081.7 703.0 2082.5 703.9 2084.5 704.6C2086.5 705.3 2089.7 705.4 2093.0 705.4C2096.3 705.4 2101.8 705.3 2104.5 704.8C2107.2 704.3 2108.1 703.8 2109.0 702.5C2109.9 701.2 2110.1 699.2 2110.0 697.0C2109.9 694.8 2109.6 692.3 2108.5 689.0C2107.4 685.7 2105.2 682.3 2103.6 677.3C2102.0 672.3 2099.4 665.0 2099.2 659.0C2098.9 653.0 2100.8 648.3 2102.1 641.4C2103.4 634.5 2105.6 625.5 2107.2 617.5C2108.8 609.5 2110.4 601.6 2111.7 593.6C2112.9 585.6 2114.4 577.2 2114.7 569.7C2115.0 562.2 2114.0 553.8 2113.4 548.7C2112.8 543.6 2111.7 542.1 2111.2 539.0C2110.7 535.9 2110.3 533.0 2110.4 530.0C2110.5 527.0 2110.9 524.4 2111.6 521.0C2112.3 517.6 2113.4 516.6 2114.7 509.8C2116.0 503.0 2118.2 488.0 2119.5 480.0C2120.8 472.0 2121.6 467.2 2122.2 462.0C2122.8 456.8 2122.5 455.0 2123.0 449.0C2123.5 443.0 2124.7 434.2 2125.0 426.0C2125.3 417.8 2125.1 406.3 2125.0 400.0C2124.9 393.7 2124.9 392.2 2124.7 388.0C2124.5 383.8 2124.1 379.4 2123.6 375.0C2123.1 370.6 2122.6 365.8 2121.6 361.6C2120.6 357.4 2119.0 353.2 2117.8 350.0C2116.6 346.8 2115.8 345.3 2114.6 342.5C2113.4 339.7 2111.6 336.2 2110.8 333.0C2110.0 329.8 2109.9 326.3 2109.8 323.0C2109.8 319.7 2110.0 316.8 2110.5 313.0C2111.0 309.2 2112.2 305.2 2113.0 300.0C2113.8 294.8 2114.9 286.7 2115.4 282.0C2115.9 277.3 2115.9 274.6 2116.2 272.0C2116.5 269.4 2116.8 266.3 2117.4 266.3C2118.0 266.3 2119.1 269.4 2120.0 272.0C2120.9 274.6 2121.6 277.0 2122.7 282.0C2123.8 287.0 2125.1 295.4 2126.5 302.0C2127.9 308.6 2129.3 314.2 2130.9 321.4C2132.5 328.6 2134.2 338.3 2135.8 345.0C2137.4 351.7 2138.7 355.2 2140.4 361.6C2142.1 368.0 2144.8 378.0 2146.2 383.2C2147.5 388.4 2147.8 389.8 2148.5 393.0C2149.2 396.2 2150.3 399.3 2150.2 402.5C2150.1 405.7 2148.6 409.0 2147.8 412.0C2147.1 415.0 2146.1 418.0 2145.7 420.7C2145.3 423.4 2145.4 425.0 2145.3 428.0C2145.2 431.0 2145.1 436.1 2145.3 438.5C2145.5 440.9 2145.9 441.7 2146.6 442.2C2147.2 442.7 2148.5 442.7 2149.2 441.5C2149.9 440.3 2150.3 437.2 2150.8 435.0C2151.3 432.8 2151.9 429.4 2152.4 428.5C2152.9 427.6 2153.0 426.6 2154.1 429.5C2155.2 432.4 2157.7 441.7 2159.0 446.0C2160.3 450.3 2160.8 453.6 2161.7 455.2C2162.6 456.8 2163.8 456.6 2164.2 455.4C2164.6 454.2 2164.2 450.8 2164.3 448.0C2164.4 445.2 2164.2 438.3 2164.7 438.5C2165.2 438.7 2166.6 445.9 2167.5 449.0C2168.4 452.1 2169.3 455.8 2170.1 456.9C2170.9 458.0 2172.2 457.3 2172.4 455.8C2172.6 454.3 2171.6 451.0 2171.3 448.0C2171.0 445.0 2170.1 438.3 2170.4 438.0C2170.7 437.7 2172.1 443.5 2173.0 446.0C2173.9 448.5 2174.9 452.0 2175.7 452.9C2176.5 453.8 2177.7 452.8 2177.8 451.3C2177.9 449.8 2176.7 447.1 2176.1 444.0C2175.5 440.9 2174.1 434.2 2174.2 433.0C2174.3 431.8 2175.8 435.3 2176.7 437.0C2177.6 438.7 2178.8 442.4 2179.6 443.0C2180.4 443.6 2181.5 442.4 2181.5 440.6C2181.5 438.8 2180.2 434.9 2179.4 432.3C2178.6 429.7 2177.7 427.6 2176.7 425.0C2175.7 422.4 2174.6 418.9 2173.6 416.4C2172.6 413.9 2171.7 412.4 2170.5 410.0C2169.3 407.6 2167.3 406.5 2166.4 402.0C2165.5 397.5 2165.4 389.9 2164.9 383.2C2164.4 376.5 2163.8 368.0 2163.2 361.6C2162.6 355.2 2162.3 351.7 2161.4 345.0C2160.5 338.3 2159.1 330.6 2157.6 321.4C2156.1 312.2 2154.1 300.2 2152.5 290.0C2150.9 279.8 2149.0 267.4 2147.8 260.0C2146.6 252.6 2146.2 250.3 2145.3 245.4C2144.4 240.5 2143.3 235.0 2142.3 230.7C2141.3 226.4 2140.4 223.2 2139.2 219.8C2138.0 216.4 2136.4 212.9 2135.0 210.5C2133.6 208.1 2132.8 206.9 2130.7 205.1C2128.5 203.3 2125.8 201.6 2122.1 199.6C2118.4 197.6 2113.4 195.1 2108.7 192.9C2104.0 190.7 2097.8 188.1 2094.1 186.2C2090.4 184.3 2088.4 182.8 2086.8 181.3C2085.2 179.8 2085.1 178.6 2084.8 177.0C2084.5 175.4 2084.6 173.4 2085.0 172.0C2085.4 170.6 2085.9 169.4 2087.0 168.4C2088.1 167.4 2089.6 166.8 2091.4 165.9C2093.2 165.0 2096.3 164.2 2098.1 163.2C2099.8 162.2 2101.1 161.1 2101.9 159.8C2102.7 158.5 2102.9 157.6 2103.0 155.4C2103.1 153.2 2102.9 149.8 2102.7 146.5C2102.5 143.2 2102.3 139.2 2101.9 135.5C2101.5 131.8 2101.1 128.1 2100.3 124.4C2099.5 120.7 2098.5 116.8 2097.0 113.3C2095.5 109.8 2093.7 106.2 2091.4 103.3C2089.1 100.4 2086.8 97.5 2083.0 95.8C2079.2 94.1 2073.5 93.0 2068.8 93.0Z" fill="#231f20"/>
<g fill="none" stroke="#e0222b" stroke-width="3.1">
<path d="M1937 92.2H1952.5M1944.8 92.2V703.5M1936 703.5H1952.5"/>
<path d="M1962.5 703.5H1972.3M1984.0 703.5H1994.5M2004.8 703.5H2015.2"/>
<path d="M1988.4 200.9L2001.2 209.4"/>
<path d="M1994.6 206C1992.3 211 1990.8 215 1989.6 219.5C1987 229 1984.5 237 1982.3 245.4C1980.3 254 1978.7 262 1977.2 270C1973.2 291 1970.3 311 1968.3 329.3C1966.2 348 1963.8 358 1962.6 367.5C1961.6 378 1961 390 1960.8 398.8"/>
<path d="M1952.5 398.8H1968.4"/>
<path d="M1989.4 219.5H2000.0M2011.0 219.5H2022.0M2032.3 219.5H2043.3M2053.6 219.5H2064.6M2074.9 219.5H2085.9M2096.2 219.5H2107.2M2117.5 219.5H2128.5M2138.8 219.5H2149.8M2160.1 219.5H2171.1M2181.4 219.5H2192.4"/>
<path d="M2022 259.3H2116.4M2022 251V267M2116.4 251V267"/>
<path d="M2119.4 259.3H2129.5M2141.1 259.3H2151.2M2162.0 259.3H2172.1M2183.8 259.3H2193.9"/>
<path d="M2022 281.1H2116.4M2022 273V289.2M2116.4 273V289.2"/>
<path d="M2119.4 281.1H2129.5M2141.1 281.1H2151.2M2162.0 281.1H2172.1M2183.8 281.1H2193.9"/>
<path d="M2028 321.3H2118.6M2028.2 313.2V329.6M2107 313.2V329.6"/>
<path d="M2130.3 321.3H2141.1M2152.0 321.3H2162.0M2172.9 321.3H2183.8M2194.3 321.3H2195.6"/>
<path d="M2011 399.9H2124.4"/><path d="M2011.7 392.4V407.8M2124 392.4V407.8" stroke-width="4.2"/>
<path d="M2126.5 399.9H2134.5M2146.6 399.9H2156.8M2167.7 399.9H2177.4M2188.0 399.9H2195.5"/>
<path d="M2069.6 449.1H2124.4M2124.3 440.9V456.9"/>
<path d="M2126.5 449.1H2134.5M2146.6 449.1H2156.8M2167.7 449.1H2177.4M2188.0 449.1H2195.5"/>
<path d="M2061 442H2077.6M2069.4 442V703.5M2061 703.5H2077.6"/>
<path d="M2070.0 567.7H2080.4M2090.7 567.7H2099.3M2111.3 567.7H2121.6M2133.6 567.7H2142.2M2154.3 567.7H2164.6M2174.9 567.7H2185.2"/>
</g>
<g fill="#e0222b" font-family="Liberation Sans, sans-serif" font-weight="bold" font-size="19.2">
<text x="2200.6" y="98.3">H</text>
<text x="2200.6" y="225.6">G</text>
<text x="2200.6" y="265.9">A</text>
<text x="2200.6" y="288.6">B</text>
<text x="2200.6" y="328">C</text>
<text x="2200.6" y="407">D</text>
<text x="2202.0" y="455.9">E</text>
<text x="2202.0" y="574.6">F</text>
</g></svg>
</body></html>
